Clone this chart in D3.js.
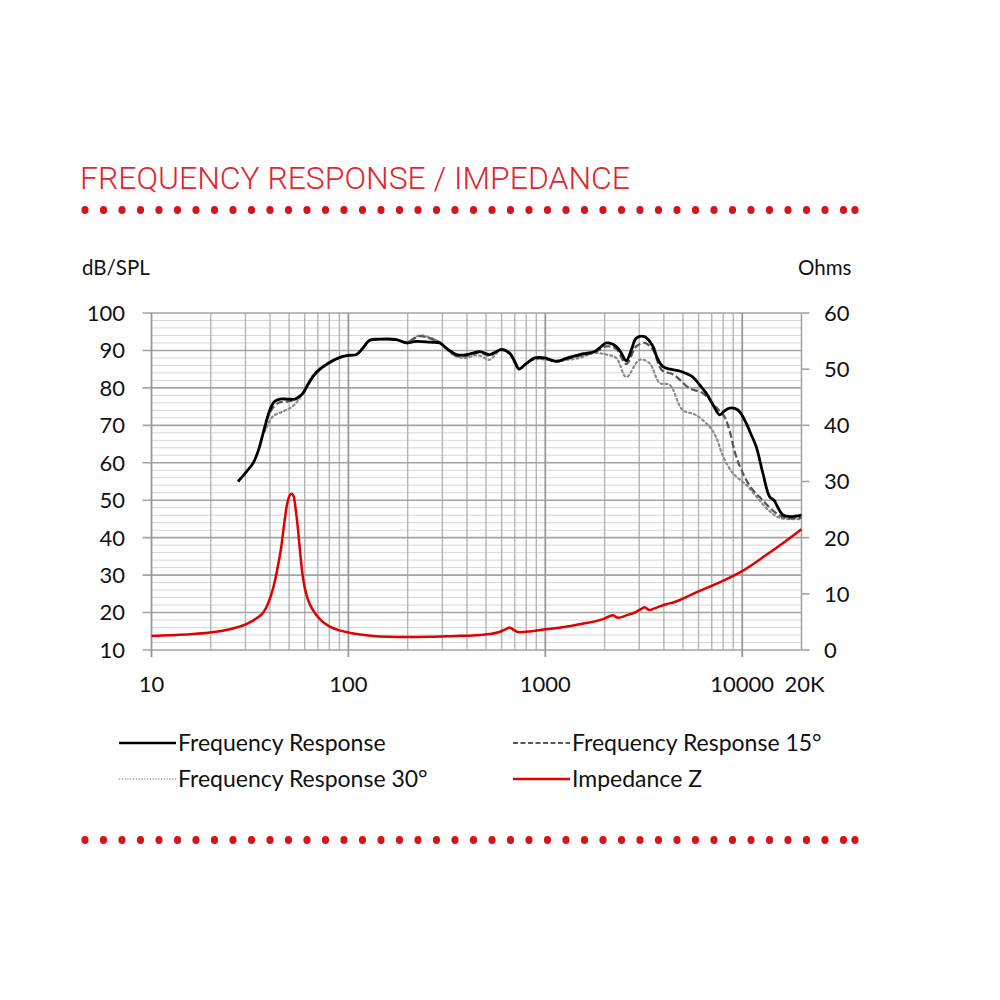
<!DOCTYPE html>
<html>
<head>
<meta charset="utf-8">
<script src="https://cdn.jsdelivr.net/npm/d3@7"></script>
<style>
  html, body { margin: 0; padding: 0; background: #fff; }
  svg { display: block; }
</style>
</head>
<body>
<svg id="chart" width="1000" height="1000"></svg>
<script>
// ---------------- DATA ----------------
const title = "FREQUENCY RESPONSE / IMPEDANCE";
const leftAxisTitle = "dB/SPL";
const rightAxisTitle = "Ohms";
const xTickValues = [10, 100, 1000, 10000, 20000];
const xTickLabels = ["10", "100", "1000", "10000", "20K"];
const yLeftTicks = [10, 20, 30, 40, 50, 60, 70, 80, 90, 100];
const yRightTicks = [0, 10, 20, 30, 40, 50, 60];
const seriesNames = ["Frequency Response", "Frequency Response 15°", "Frequency Response 30°", "Impedance Z"];

// [frequency Hz, dB SPL]
const freqResponse = [
  [27.5,55],[30,57.3],[32.8,59.9],[35,63.5],[36.9,67.9],[39.9,74.1],[42,76.3],[44.8,77],[49,77],[53.4,77],
  [56,77.6],[58.8,78.6],[62,80.7],[66.1,83],[71,84.8],[77.3,86.2],[85,87.5],[93.9,88.4],[100,88.7],[109.8,88.9],
  [118,90.5],[128,92.7],[144,93],[175,92.9],[197,92],[221,92.4],[260,92.2],[291,92],[320,90.3],[353,88.9],
  [390,88.8],[429,89.3],[464,89.7],[521,88.9],[560,89.6],[598,90.2],[659,89.3],[700,87],[735,85],[800,86.5],
  [883,88],[992,88],[1137,87.1],[1300,88],[1494,88.9],[1780,89.7],[1900,90.8],[2040,92],[2292,91.1],[2450,89],
  [2576,87.2],[2750,90.5],[2897,93.3],[3192,93.7],[3517,91.1],[3700,88],[3953,85.7],[4300,85],[4622,84.7],[5000,84.2],
  [5614,82.9],[6100,80.7],[6564,78.6],[7100,75.5],[7678,72.8],[8100,73.8],[8622,74.6],[9505,74.1],[10476,70.6],[11000,68],
  [11776,64.3],[12735,57.2],[13758,51],[14500,50],[15200,48],[16070,46.1],[17500,45.6],[20000,46]
];
const freqResponse15 = [
  [37,68.5],[40,73.5],[44,76],[48,76.3],[53,76.8],[58.8,78.5],[62,80.7],[66.1,83.1],[71,84.9],[77.3,86.3],
  [85,87.6],[93.9,88.4],[100,88.7],[109.8,88.9],[118,90.5],[128,92.7],[144,93],[175,92.9],[197,92.2],[230,93.8],
  [260,93.2],[291,92.2],[320,90.2],[353,88.6],[390,88.5],[429,89],[464,89.4],[521,88.6],[560,89.6],[598,90.4],
  [659,89.2],[700,86.9],[735,85.1],[800,86.5],[883,87.8],[992,87.8],[1137,87],[1300,87.8],[1494,88.6],[1780,89.5],
  [2040,91.1],[2292,90.4],[2576,86.4],[2897,91.1],[3192,92],[3517,90.2],[3900,84.8],[4500,83.5],[5400,79.9],[6300,78.6],
  [7300,75],[8100,72.4],[8600,68.8],[9200,62.6],[9900,58.1],[11000,53.6],[12700,50],[14500,47],[16500,45.3],[20000,45.3]
];
const freqResponse30 = [
  [37.6,68.3],[41.4,72.4],[46.6,73.7],[52.4,75.2],[58.8,78.6],[66,83.3],[77,86.4],[94,88.4],[110,88.9],[128,92.6],
  [144,93],[175,92.9],[197,92.2],[230,94],[260,93.4],[291,92.2],[320,90],[353,88.4],[400,88],[429,88.6],
  [464,88.6],[521,87.5],[560,89],[598,90.4],[659,89],[735,85.2],[800,86.6],[883,87.6],[992,87.6],[1137,87.3],
  [1494,88],[1745,89.3],[2040,88.9],[2292,88],[2576,82.9],[3010,87.5],[3380,86.6],[3810,81.3],[4280,80.8],[4980,74.1],
  [5800,72.8],[6800,69.7],[7340,67],[8000,61.7],[8970,57.2],[10480,54.1],[11780,51],[13500,47.5],[15500,45.3],[20000,45]
];
// [frequency Hz, Ohms]
const impedance = [
  [10,2.5],[15,2.75],[19.8,3.1],[25,3.7],[30.3,4.6],[34,5.6],[36.8,6.6],[39,8.2],[41.4,10.9],[43.5,14.3],
  [45.7,18.6],[47.2,22.5],[48.6,25.6],[50,27.3],[51.4,27.8],[52.8,27.3],[54,25],[55.5,21.4],[57,17],[58.8,12.8],
  [62,9.2],[66.1,7.1],[72,5.4],[80.4,4.15],[90,3.5],[100,3.1],[115,2.75],[133,2.5],[160,2.35],[197,2.3],
  [260,2.35],[350,2.5],[429,2.6],[521,2.85],[585,3.2],[630,3.7],[659,4.0],[690,3.6],[740,3.15],[850,3.35],
  [1010,3.7],[1250,4.1],[1494,4.6],[1960,5.5],[2150,6.1],[2200,6.2],[2340,5.75],[2600,6.2],[2897,6.8],[3100,7.4],
  [3192,7.6],[3380,7.1],[3700,7.6],[4160,8.2],[4500,8.5],[5800,10.2],[7678,12.05],[9900,13.95],[12735,16.5],[16070,19.0],
  [20000,21.5]
];

// ---------------- LAYOUT ----------------
const svg = d3.select("#chart");
const L = 151.5, R = 801.5, T = 313, B = 650;
const font = "Lato, 'Open Sans', sans-serif";
const red = "#d7141c";
const ink = "#111";

const x = d3.scaleLog().domain([10, 20000]).range([L, R]);
const yL = d3.scaleLinear().domain([10, 100]).range([B, T]);
const yR = d3.scaleLinear().domain([0, 60]).range([B, T]);

// Title
svg.append("text")
  .attr("x", 80).attr("y", 189)
  .attr("font-family", "'Liberation Sans Narrow', Roboto, sans-serif")
  .attr("font-weight", 300)
  .attr("font-size", 31)
  .attr("fill", "#e0262c")
  .attr("textLength", 550).attr("lengthAdjust", "spacingAndGlyphs")
  .text(title);

// Dotted rows
const dotXs = d3.range(42).map(i => 85 + i * 18.5).concat([855]);
[210, 840].forEach(yy => {
  svg.append("g").selectAll("ellipse").data(dotXs).join("ellipse")
    .attr("cx", d => d).attr("cy", yy).attr("rx", 3.6).attr("ry", 4.1)
    .attr("fill", red);
});

// Grid
const grid = svg.append("g");
const hMinor = d3.range(12, 100, 2).filter(v => v % 10 !== 0);
grid.selectAll(".hmin").data(hMinor).join("line")
  .attr("x1", L).attr("x2", R).attr("y1", d => yL(d)).attr("y2", d => yL(d))
  .attr("stroke", "#d6d6d6").attr("stroke-width", 1);
const vMinor = [];
[10, 100, 1000, 10000].forEach(dec => {
  for (let m = 2; m <= 9; m++) { const f = dec * m; if (f < 20000) vMinor.push(f); }
});
grid.selectAll(".vmin").data(vMinor).join("line")
  .attr("x1", d => x(d)).attr("x2", d => x(d)).attr("y1", T).attr("y2", B)
  .attr("stroke", "#b4b4b4").attr("stroke-width", 1.4);
grid.selectAll(".hmaj").data(yLeftTicks).join("line")
  .attr("x1", L - 9).attr("x2", R).attr("y1", d => yL(d)).attr("y2", d => yL(d))
  .attr("stroke", "#a3a3a3").attr("stroke-width", 1.6);
grid.selectAll(".rt").data(yRightTicks).join("line")
  .attr("x1", R).attr("x2", R + 8).attr("y1", d => yR(d)).attr("y2", d => yR(d))
  .attr("stroke", "#a3a3a3").attr("stroke-width", 1.6);
grid.selectAll(".vmaj").data([10, 100, 1000, 10000]).join("line")
  .attr("x1", d => x(d)).attr("x2", d => x(d)).attr("y1", T).attr("y2", B + 7)
  .attr("stroke", "#999").attr("stroke-width", 1.8);
grid.append("line").attr("x1", R).attr("x2", R).attr("y1", T).attr("y2", B)
  .attr("stroke", "#a3a3a3").attr("stroke-width", 1.6);

// Axis labels
svg.append("g").selectAll("text").data(yLeftTicks).join("text")
  .attr("x", 125).attr("y", d => yL(d)).attr("dy", "0.36em")
  .attr("text-anchor", "end").attr("font-family", font).attr("font-size", 22).attr("fill", ink)
  .text(d => d);
svg.append("g").selectAll("text").data(yRightTicks).join("text")
  .attr("x", 824).attr("y", d => yR(d)).attr("dy", "0.36em")
  .attr("text-anchor", "start").attr("font-family", font).attr("font-size", 22).attr("fill", ink)
  .text(d => d);
const xLabelOffset = [0, 0, 0, 0, 3];
svg.append("g").selectAll("text").data(xTickValues).join("text")
  .attr("x", (d, i) => x(d) + xLabelOffset[i]).attr("y", 684).attr("dy", "0.36em")
  .attr("text-anchor", "middle").attr("font-family", font).attr("font-size", 22).attr("fill", ink)
  .text((d, i) => xTickLabels[i]);

svg.append("text").attr("x", 82).attr("y", 268).attr("dy", "0.36em")
  .attr("font-family", font).attr("font-size", 20.5).attr("fill", ink).text(leftAxisTitle);
svg.append("text").attr("x", 798).attr("y", 268).attr("dy", "0.36em")
  .attr("font-family", font).attr("font-size", 20.5).attr("fill", ink).text(rightAxisTitle);

// Curves
const lineL = d3.line().x(d => x(d[0])).y(d => yL(d[1])).curve(d3.curveCatmullRom.alpha(0.5));
const lineR = d3.line().x(d => x(d[0])).y(d => yR(d[1])).curve(d3.curveMonotoneX);

svg.append("path").attr("d", lineR(impedance))
  .attr("fill", "none").attr("stroke", "#e00000").attr("stroke-width", 2.5);
svg.append("path").attr("d", lineL(freqResponse30))
  .attr("fill", "none").attr("stroke", "#8c8c8c").attr("stroke-width", 2.2)
  .attr("stroke-dasharray", "2,3").attr("stroke-linecap", "round");
svg.append("path").attr("d", lineL(freqResponse15))
  .attr("fill", "none").attr("stroke", "#555").attr("stroke-width", 2.2)
  .attr("stroke-dasharray", "7,3");
svg.append("path").attr("d", lineL(freqResponse))
  .attr("fill", "none").attr("stroke", "#000").attr("stroke-width", 2.8);

// Legend
const legend = [
  { name: seriesNames[0], x: 119, y: 743, stroke: "#000", dash: null, w: 2.6 },
  { name: seriesNames[1], x: 513, y: 743, stroke: "#5a5a5a", dash: "5,2.5", w: 1.8 },
  { name: seriesNames[2], x: 119, y: 779, stroke: "#9a9a9a", dash: "1.2,1.6", w: 1.5 },
  { name: seriesNames[3], x: 513, y: 779, stroke: "#e00000", dash: null, w: 2.4 }
];
const lg = svg.append("g").selectAll("g").data(legend).join("g");
lg.append("line")
  .attr("x1", d => d.x).attr("x2", d => d.x + 57).attr("y1", d => d.y).attr("y2", d => d.y)
  .attr("stroke", d => d.stroke).attr("stroke-width", d => d.w)
  .attr("stroke-dasharray", d => d.dash);
lg.append("text")
  .attr("x", d => d.x + 59).attr("y", d => d.y).attr("dy", "0.36em")
  .attr("font-family", font).attr("font-size", 23).attr("fill", ink)
  .text(d => d.name);
</script>
</body>
</html>
